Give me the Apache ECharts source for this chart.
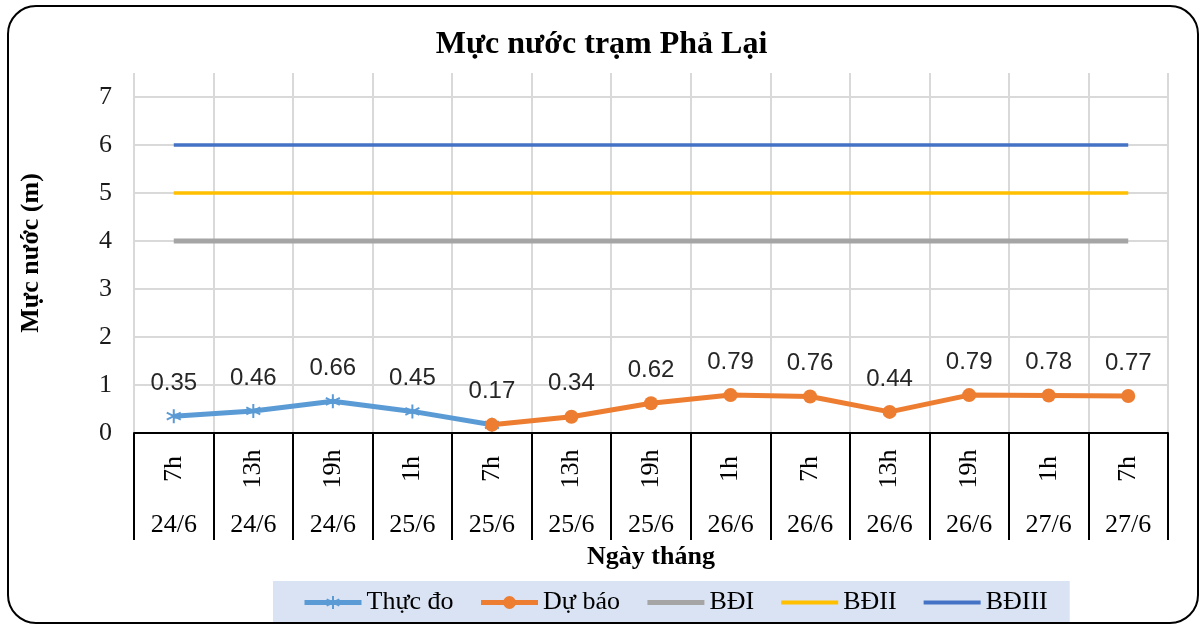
<!DOCTYPE html>
<html>
<head>
<meta charset="utf-8">
<script src="https://cdn.jsdelivr.net/npm/echarts@6/dist/echarts.min.js"></script>
<style>
html,body{margin:0;padding:0;background:#fff;}
#chart{width:1203px;height:626px;}
</style>
</head>
<body>
<div id="chart"></div>
<script>
// ---- data ----
const hours = ['7h','13h','19h','1h','7h','13h','19h','1h','7h','13h','19h','1h','7h'];
const dates = ['24/6','24/6','24/6','25/6','25/6','25/6','25/6','26/6','26/6','26/6','26/6','27/6','27/6'];
const measured = [0.35, 0.46, 0.66, 0.45, 0.17];          // Thực đo (indices 0-4)
const forecast = [0.17, 0.34, 0.62, 0.79, 0.76, 0.44, 0.79, 0.78, 0.77]; // Dự báo (indices 4-12)
const forecastStart = 4;
const bd1 = 4, bd2 = 5, bd3 = 6;
const yTicks = [0, 1, 2, 3, 4, 5, 6, 7];

// ---- build series arrays ----
const measuredData = hours.map((_, i) => i < measured.length ? measured[i] : null);
const forecastData = hours.map((_, i) => (i >= forecastStart && i - forecastStart < forecast.length) ? forecast[i - forecastStart] : null);
const fill = v => hours.map(() => v);

const SERIF = '"Liberation Serif", "Times New Roman", serif';
const SANS = '"Liberation Sans", Arial, sans-serif';
const asterisk = 'path://M5,0L5,10M0.67,2.5L9.33,7.5M0.67,7.5L9.33,2.5';
const NONE = 'rgba(0,0,0,0)';

const chart = echarts.init(document.getElementById('chart'), null, {renderer: 'canvas'});
const gridColors = yTicks.map(() => '#d9d9d9').concat([NONE]);

chart.setOption({
  animation: false,
  backgroundColor: '#fff',
  title: {
    text: 'Mực nước trạm Phả Lại',
    left: 'center',
    top: 24,
    textStyle: {fontFamily: SERIF, fontWeight: 'bold', fontSize: 32, color: '#000'}
  },
  graphic: [{
    type: 'rect',
    z: -1,
    shape: {x: 8, y: 6, width: 1190, height: 617, r: 28},
    style: {fill: 'none', stroke: '#000', lineWidth: 2}
  }],
  legend: {
    left: 273,
    top: 581,
    backgroundColor: '#dae3f3',
    padding: [8, 22, 6, 29],
    itemWidth: 57,
    itemHeight: 16,
    itemGap: 25,
    textStyle: {fontFamily: SERIF, fontSize: 26, color: '#000', lineHeight: 27},
    data: [
      {name: 'Thực đo', lineStyle: {width: 5}},
      {name: 'Dự báo', lineStyle: {width: 5}},
      {name: 'BĐI', lineStyle: {width: 5}, itemStyle: {color: NONE, opacity: 0}},
      {name: 'BĐII', lineStyle: {width: 4}, itemStyle: {color: NONE, opacity: 0}},
      {name: 'BĐIII', lineStyle: {width: 4}, itemStyle: {color: NONE, opacity: 0}}
    ]
  },
  grid: {left: 134, right: 35, top: 73, bottom: 193, containLabel: false},
  xAxis: [{
    type: 'category',
    data: hours,
    position: 'bottom',
    boundaryGap: true,
    axisLine: {show: true, lineStyle: {color: '#000', width: 2}},
    axisTick: {show: true, interval: 0, length: 107, lineStyle: {color: '#000', width: 2}},
    axisLabel: {
      interval: 0, rotate: 90, align: 'center', verticalAlign: 'middle', margin: 36,
      fontFamily: SERIF, fontSize: 26, color: '#000'
    },
    splitLine: {show: true, interval: 0, lineStyle: {color: '#d9d9d9', width: 2}},
    name: 'Ngày tháng',
    nameLocation: 'middle',
    nameGap: 124,
    nameTextStyle: {fontFamily: SERIF, fontWeight: 'bold', fontSize: 26, color: '#000', verticalAlign: 'middle'}
  }, {
    type: 'category',
    data: dates,
    position: 'bottom',
    boundaryGap: true,
    axisLine: {show: false},
    axisTick: {show: false},
    splitLine: {show: false},
    axisLabel: {
      interval: 0, margin: 92, verticalAlign: 'middle',
      fontFamily: SERIF, fontSize: 26, color: '#000'
    }
  }],
  yAxis: {
    type: 'value',
    min: 0,
    max: 7.5,
    interval: 1,
    axisLine: {show: false},
    axisTick: {show: false},
    axisLabel: {
      margin: 22, fontFamily: SERIF, fontSize: 26, color: '#1a1a1a',
      formatter: v => (yTicks.indexOf(v) >= 0 ? String(v) : '')
    },
    splitLine: {show: true, lineStyle: {color: gridColors, width: 2}},
    name: 'Mực nước (m)',
    nameLocation: 'middle',
    nameGap: 90,
    nameTextStyle: {fontFamily: SERIF, fontWeight: 'bold', fontSize: 26, color: '#000'}
  },
  series: [{
    name: 'BĐI', type: 'line', data: fill(bd1), symbol: 'none',
    lineStyle: {color: '#a5a5a5', width: 5}, itemStyle: {color: NONE}, silent: true
  }, {
    name: 'BĐII', type: 'line', data: fill(bd2), symbol: 'none',
    lineStyle: {color: '#ffc000', width: 3.5}, itemStyle: {color: NONE}, silent: true
  }, {
    name: 'BĐIII', type: 'line', data: fill(bd3), symbol: 'none',
    lineStyle: {color: '#4472c4', width: 3.5}, itemStyle: {color: NONE}, silent: true
  }, {
    name: 'Thực đo', type: 'line', data: measuredData,
    symbol: asterisk, symbolSize: 14, showSymbol: true,
    lineStyle: {color: '#5b9bd5', width: 5},
    itemStyle: {color: '#5b9bd5', borderColor: '#5b9bd5', borderWidth: 2},
    label: {
      show: true, position: 'top', distance: 13,
      fontFamily: SANS, fontSize: 24, color: '#262626',
      formatter: p => (p.dataIndex < forecastStart ? p.value.toFixed(2) : '')
    },
    z: 3
  }, {
    name: 'Dự báo', type: 'line', data: forecastData,
    symbol: 'circle', symbolSize: 14, showSymbol: true,
    lineStyle: {color: '#ed7d31', width: 5},
    itemStyle: {color: '#ed7d31'},
    label: {
      show: true, position: 'top', distance: 14,
      fontFamily: SANS, fontSize: 24, color: '#262626',
      formatter: p => p.value.toFixed(2)
    },
    z: 4
  }]
});
</script>
</body>
</html>
